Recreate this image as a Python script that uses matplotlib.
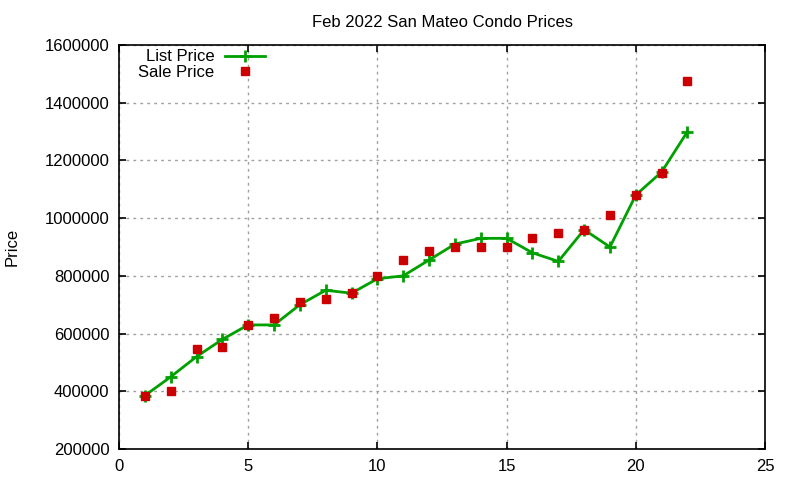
import matplotlib
matplotlib.use('Agg')
import matplotlib.pyplot as plt

'''Feb 2022 San Mateo condo prices, gnuplot look'''

homes = list(range(1, 23))
list_price = [385000, 450000, 520000, 580000, 630000, 630000, 700000, 750000,
              740000, 790000, 800000, 855000, 910000, 930000, 930000, 880000,
              850000, 960000, 900000, 1080000, 1160000, 1300000]
sale_price = [385000, 400000, 545000, 555000, 630000, 655000, 710000, 720000,
              740000, 800000, 855000, 885000, 900000, 900000, 900000, 930000,
              950000, 960000, 1010000, 1080000, 1155000, 1475000]
y_ticks = [200000, 400000, 600000, 800000, 1000000, 1200000, 1400000, 1600000]
x_ticks = [0, 5, 10, 15, 20, 25]

plt.rcParams['font.family'] = ['Liberation Sans', 'DejaVu Sans']
plt.rcParams['font.size'] = 12

fig = plt.figure(figsize=(8, 4.8), dpi=100)
ax = fig.add_axes([119/800, 1-449/480, (765-119)/800, (449-45)/480])

ax.plot(homes, list_price, color='#00a000', lw=2, marker='+', ms=8, mew=2,
        label='List Price', zorder=3)
ax.plot(homes, sale_price, color='#cc0000', ls='none', marker='s', ms=6,
        label='Sale Price', zorder=4)

ax.set_xlim(0, 25)
ax.set_ylim(200000, 1600000)
ax.set_xticks(x_ticks)
ax.set_yticks(y_ticks)
ax.ticklabel_format(style='plain', axis='y')
ax.grid(True, color='#a0a0a0', ls=(0, (2, 3)), lw=1)
ax.tick_params(direction='in', top=True, right=True, length=5, width=1.2,
               labelsize=12, pad=7)
for s in ax.spines.values():
    s.set_linewidth(1.2)

ax.set_title('Feb 2022 San Mateo Condo Prices', fontsize=12, pad=13)
fig.text(12/800, 1-247/480, 'Price', rotation=90, ha='center', va='center',
         fontsize=12)

ax.legend(loc='upper left', bbox_to_anchor=(0.012, 1.018), frameon=False,
          markerfirst=False, handlelength=2.4, handletextpad=0.6,
          labelspacing=0.05, borderaxespad=0.3, fontsize=12)

plt.savefig('out.png', dpi=100)
